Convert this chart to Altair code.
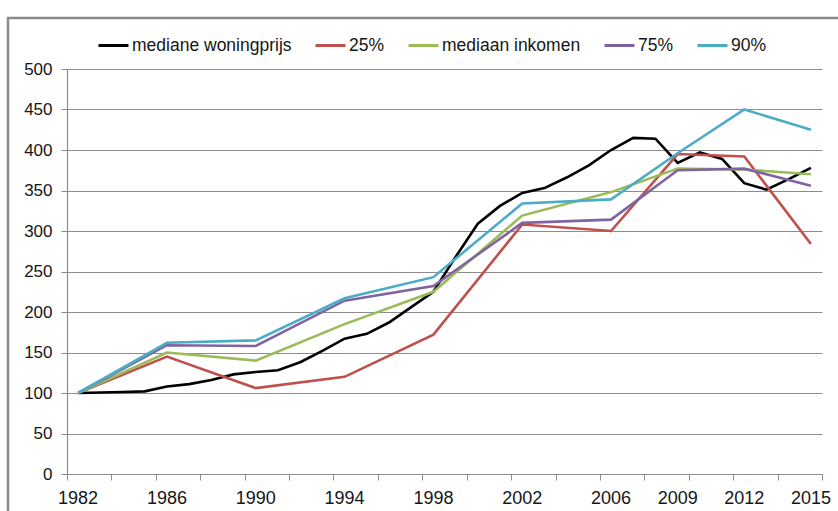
import altair as alt
import pandas as pd

# --- data ---
years_all = list(range(1982, 2016))
woningprijs = [100, 100.7, 101.3, 102, 108, 111, 116, 123, 126, 128, 138, 152, 167,
               173, 187, 206, 225, 268, 309, 331, 347, 353, 366, 381, 400, 415, 414,
               384, 397, 389, 359, 351, 364, 378]

years_sub = [1982, 1986, 1990, 1994, 1998, 2002, 2006, 2009, 2012, 2015]
p25 = [100, 145, 106, 120, 172, 308, 300, 395, 392, 284]
inkomen = [100, 150, 140, 185, 225, 319, 348, 377, 376, 370]
p75 = [100, 159, 158, 214, 232, 310, 314, 375, 377, 356]
p90 = [100, 162, 165, 217, 243, 334, 339, 396, 450, 425]

series_names = ["mediane woningprijs", "25%", "mediaan inkomen", "75%", "90%"]
series_colors = ["#000000", "#c0504d", "#9bbb59", "#8064a2", "#4bacc6"]
label_years = years_sub
y_ticks = list(range(0, 501, 50))

rows = []
for y, v in zip(years_all, woningprijs):
    rows.append({"jaar": y, "index": v, "reeks": series_names[0]})
for name, vals in zip(series_names[1:], [p25, inkomen, p75, p90]):
    for y, v in zip(years_sub, vals):
        rows.append({"jaar": y, "index": v, "reeks": name})
df = pd.DataFrame(rows)

labels_df = pd.DataFrame({"jaar": label_years, "tekst": [str(y) for y in label_years]})

# ticks between the yearly categories
tick_vals = [y - 0.5 for y in years_all] + [years_all[-1] + 0.5]

FONT = "Liberation Sans"
GRID = "#8c8c8c"
TXT = "#161616"
W, H = 755, 405

x_scale = alt.Scale(domain=[years_all[0] - 0.5, years_all[-1] + 0.5], nice=False, zero=False)

lines = alt.Chart(df).mark_line(strokeWidth=2.6).encode(
    x=alt.X(
        "jaar:Q",
        scale=x_scale,
        axis=alt.Axis(
            title=None,
            values=tick_vals,
            labels=False,
            tickSize=6,
            tickColor=GRID,
            domainColor=GRID,
            domainWidth=1.2,
            grid=False,
        ),
    ),
    y=alt.Y(
        "index:Q",
        scale=alt.Scale(domain=[0, 500], nice=False),
        axis=alt.Axis(
            title=None,
            values=y_ticks,
            tickSize=6,
            tickColor=GRID,
            domainColor=GRID,
            domainWidth=1.2,
            grid=True,
            gridColor=GRID,
            gridWidth=1.1,
            labelFontSize=17,
            labelPadding=9,
            labelColor=TXT,
        ),
    ),
    color=alt.Color(
        "reeks:N",
        scale=alt.Scale(domain=series_names, range=series_colors),
        legend=alt.Legend(
            title=None,
            orient="none",
            direction="horizontal",
            columns=5,
            legendX=30,
            legendY=-40,
            symbolType="stroke",
            symbolSize=900,
            symbolStrokeWidth=3,
            labelFontSize=17.5,
            labelOffset=2,
            labelLimit=0,
            columnPadding=17,
            labelColor=TXT,
        ),
    ),
)

xlabels = alt.Chart(labels_df).mark_text(
    fontSize=18, baseline="top", align="center", color=TXT, font=FONT
).encode(
    x=alt.X("jaar:Q", scale=x_scale),
    y=alt.value(H + 16),
    text="tekst:N",
)

frame = alt.Chart(alt.Data(values=[{"f": 1}])).mark_rect(
    fillOpacity=0, stroke="#8a8a8a", strokeWidth=2.5
).encode(
    x=alt.value(-59), x2=alt.value(800), y=alt.value(-51), y2=alt.value(470)
)

chart = alt.layer(frame, lines, xlabels).properties(
    width=W,
    height=H,
    padding={"left": 67, "top": 69, "right": 16, "bottom": 37},
    autosize="none",
).configure(
    font=FONT,
).configure_view(stroke=None).configure_axis(labelFont=FONT).configure_legend(labelFont=FONT)

chart.save("out.html", embed_options={"renderer": "svg", "actions": False})
